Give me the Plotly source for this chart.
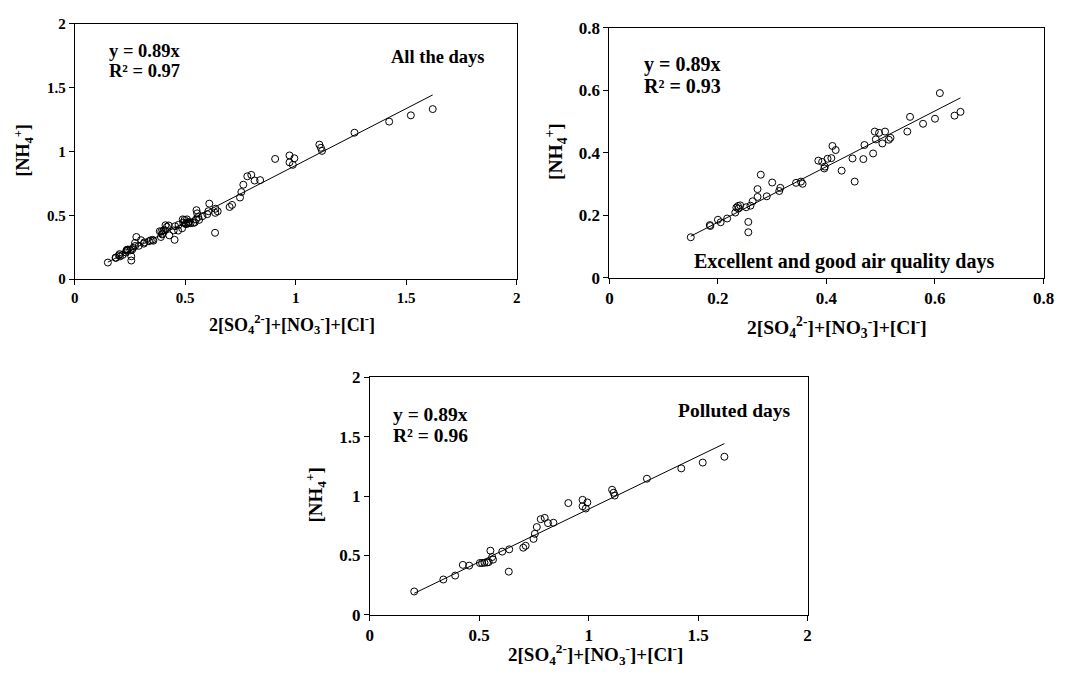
import plotly.graph_objects as go

W, H = 1070, 675

# ---------------- data ----------------
good_x = [0.150, 0.185, 0.186, 0.200, 0.205, 0.217, 0.232, 0.234, 0.237, 0.238,
          0.241, 0.252, 0.256, 0.256, 0.260, 0.264, 0.273, 0.273, 0.279, 0.290,
          0.300, 0.313, 0.315, 0.344, 0.353, 0.356, 0.385, 0.392, 0.396, 0.397,
          0.402, 0.409, 0.411, 0.417, 0.428, 0.448, 0.452, 0.468, 0.470, 0.486,
          0.489, 0.491, 0.497, 0.503, 0.508, 0.515, 0.518, 0.549, 0.554, 0.578,
          0.600, 0.609, 0.636, 0.647]
good_y = [0.130, 0.169, 0.166, 0.186, 0.178, 0.190, 0.209, 0.225, 0.230, 0.222,
          0.232, 0.226, 0.179, 0.146, 0.231, 0.245, 0.284, 0.259, 0.330, 0.261,
          0.305, 0.278, 0.288, 0.304, 0.308, 0.301, 0.375, 0.371, 0.350, 0.356,
          0.381, 0.383, 0.422, 0.409, 0.343, 0.382, 0.308, 0.380, 0.425, 0.398,
          0.468, 0.443, 0.464, 0.430, 0.468, 0.442, 0.448, 0.468, 0.515, 0.493,
          0.509, 0.591, 0.519, 0.531]

polluted_x = [0.203, 0.336, 0.390, 0.425, 0.454, 0.503, 0.513, 0.524, 0.536, 0.543,
              0.551, 0.559, 0.563, 0.605, 0.637, 0.635, 0.701, 0.712, 0.748, 0.754,
              0.763, 0.781, 0.799, 0.814, 0.839, 0.907, 0.972, 0.972, 0.994, 0.987,
              1.107, 1.114, 1.119, 1.266, 1.423, 1.521, 1.620]
polluted_y = [0.196, 0.297, 0.330, 0.420, 0.414, 0.436, 0.436, 0.438, 0.440, 0.444,
              0.540, 0.486, 0.464, 0.532, 0.551, 0.363, 0.565, 0.581, 0.639, 0.682,
              0.739, 0.805, 0.816, 0.772, 0.775, 0.941, 0.968, 0.914, 0.946, 0.895,
              1.053, 1.028, 1.004, 1.146, 1.233, 1.282, 1.331]

all_x = good_x + polluted_x
all_y = good_y + polluted_y

slope = 0.89
r2_all, r2_good, r2_polluted = 0.97, 0.93, 0.96
titles = ["All the days", "Excellent and good air quality days", "Polluted days"]
x_title = "2[SO<sub>4</sub><sup>2-</sup>]+[NO<sub>3</sub><sup>-</sup>]+[Cl<sup>-</sup>]"
y_title = "[NH<sub>4</sub><sup>+</sup>]"

FONT = "Liberation Serif"

def px(x):
    return x / W

def py(y):
    return 1 - y / H

fig = go.Figure()

panels = [
    dict(xs=all_x, ys=all_y, xa="x", ya="y"),
    dict(xs=good_x, ys=good_y, xa="x2", ya="y2"),
    dict(xs=polluted_x, ys=polluted_y, xa="x3", ya="y3"),
]
for p in panels:
    fig.add_trace(go.Scatter(
        x=p["xs"], y=p["ys"], mode="markers", xaxis=p["xa"], yaxis=p["ya"],
        marker=dict(symbol="circle-open", size=7, color="black", line=dict(width=1)),
        showlegend=False, hoverinfo="skip"))
    lx = [min(p["xs"]), max(p["xs"])]
    fig.add_trace(go.Scatter(
        x=lx, y=[slope * v for v in lx], mode="lines", xaxis=p["xa"], yaxis=p["ya"],
        line=dict(color="black", width=1), showlegend=False, hoverinfo="skip"))

def axis(domain, rng, dtick, fsize, anchor):
    return dict(domain=domain, range=rng, dtick=dtick, tick0=0, anchor=anchor,
                showline=True, linecolor="black", linewidth=1, mirror=True,
                showgrid=False, zeroline=False, ticks="outside", ticklen=5,
                tickwidth=1, tickcolor="black",
                tickfont=dict(family=FONT, size=fsize, color="black", weight="bold"))

fig.update_layout(
    width=W, height=H, margin=dict(l=0, r=0, t=0, b=0),
    paper_bgcolor="white", plot_bgcolor="white",
    xaxis=axis([px(71.7), px(520)], [0, 2], 0.5, 15, "y"),
    yaxis=axis([py(278), py(15)], [0, 2], 0.5, 15, "x"),
    xaxis2=axis([px(614), px(1054.3)], [0, 0.8], 0.2, 17, "y2"),
    yaxis2=axis([py(276.7), py(19.3)], [0, 0.8], 0.2, 17, "x2"),
    xaxis3=axis([px(371), px(815)], [0, 2], 0.5, 17, "y3"),
    yaxis3=axis([py(623.3), py(379)], [0, 2], 0.5, 17, "x3"),
)

anns = []
def ann(text, x, y, size, xanchor="left", angle=0):
    anns.append(dict(text=text, x=px(x), y=py(y), xref="paper", yref="paper",
                     xanchor=xanchor, yanchor="middle", showarrow=False, textangle=angle,
                     font=dict(family=FONT, size=size, color="black", weight="bold")))

# panel 1
ann("y = %.2fx" % slope, 104, 43, 18.5)
ann("R² = %.2f" % r2_all, 104, 64, 18.5)
ann(titles[0], 390, 49, 18.5)
ann(x_title, 292, 325, 18, "center")
ann(y_title, 20, 146, 18, "center", -90)
# panel 2
ann("y = %.2fx" % slope, 647, 57, 20)
ann("R² = %.2f" % r2_good, 647, 79, 20)
ann(titles[1], 698, 260, 20)
ann(x_title, 845, 328, 19.5, "center")
ann(y_title, 560, 147, 19.5, "center", -90)
# panel 3
ann("y = %.2fx" % slope, 392, 417, 19.5)
ann("R² = %.2f" % r2_polluted, 392, 439, 19.5)
ann(titles[2], 682, 413, 19.5)
ann(x_title, 600, 664, 19, "center")
ann(y_title, 316, 500, 19, "center", -90)

fig.update_layout(annotations=anns)
fig.write_html("out.html")
